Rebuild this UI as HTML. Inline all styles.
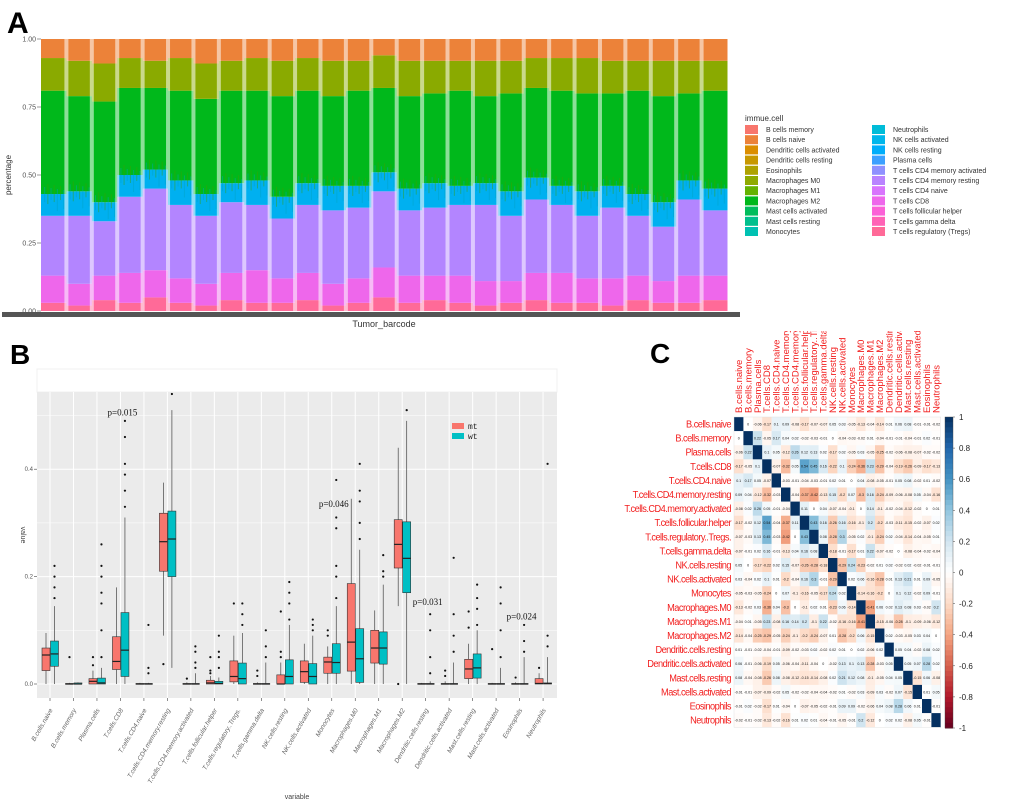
<!DOCTYPE html>
<html><head><meta charset="utf-8"><style>
html,body{margin:0;padding:0;background:#fff;}
svg{display:block;font-family:"Liberation Sans",sans-serif;}
</style></head><body>
<svg id="fig" width="1020" height="804" viewBox="0 0 1020 804" xmlns="http://www.w3.org/2000/svg">
<defs><clipPath id="cclip"><rect x="700" y="331" width="300" height="100"/></clipPath></defs>
<text x="7" y="33" font-size="30" font-weight="bold">A</text>
<text x="10" y="364" font-size="28" font-weight="bold">B</text>
<text x="650" y="363" font-size="28" font-weight="bold">C</text>
<g id="pa"></g>
<g id="pb"></g>
<g id="pc"></g>
</svg>
<script>
const NS="http://www.w3.org/2000/svg";
function mk(p,tag,at,txt){const e=document.createElementNS(NS,tag);for(const k in at)e.setAttribute(k,at[k]);if(txt!==undefined)e.textContent=txt;p.appendChild(e);return e;}

/* ---------- Panel A data ---------- */
const layerRed=[3,2,4,3,5,3,2,4,3,3,4,2,3,5,3,4,3,2,3,4,3,3,2,4,3,3,4];
const layerMagenta=[10,8,9,11,10,9,8,10,12,9,10,8,9,11,10,9,10,9,8,10,11,9,10,9,8,10,9];
const layerPurple=[22,25,20,28,30,27,25,26,24,22,25,27,26,28,24,25,26,28,24,27,25,23,26,22,20,28,24];
const layerCyan=[8,9,7,8,7,9,8,7,9,8,8,9,8,7,8,9,7,8,9,8,7,9,8,8,9,7,8];
const layerGreen=[38,35,37,32,30,33,35,34,33,37,34,33,35,31,34,33,35,32,36,33,35,36,34,38,39,32,36];
const layerOlive=[12,13,14,11,10,12,13,11,12,13,12,13,11,12,13,12,11,13,12,11,12,13,12,11,13,12,11];
const layerOrange=[7,8,9,7,8,7,9,8,7,8,7,8,8,6,8,8,8,8,8,7,7,7,8,8,8,8,8];
const aTicks=["0.00","0.25","0.50","0.75","1.00"];
const legendNames=["B cells memory","B cells naive","Dendritic cells activated","Dendritic cells resting","Eosinophils","Macrophages M0","Macrophages M1","Macrophages M2","Mast cells activated","Mast cells resting","Monocytes","Neutrophils","NK cells activated","NK cells resting","Plasma cells","T cells CD4 memory activated","T cells CD4 memory resting","T cells CD4 naive","T cells CD8","T cells follicular helper","T cells gamma delta","T cells regulatory (Tregs)"];
const legendColors=["#F8766D","#EC8239","#DB8E00","#C79800","#AEA200","#8FAA00","#64B200","#00B81B","#00BD5C","#00C08D","#00C1B2","#00BCD8","#00B6EB","#00ADFA","#3CA0FF","#8F91FF","#B983FF","#D874FD","#EE67EB","#FB61D7","#FF63B6","#FF6A98"];
const layerColors=["#FF6A98","#EE67EB","#B385FF","#00B0F0","#00B81B","#8AAA00","#EC8239"];

(function(){
 const g=document.getElementById('pa');
 const L=41,R=727,T=39,B=311;
 const ys=v=>B-(B-T)*v;
 const layers=[layerRed,layerMagenta,layerPurple,layerCyan,layerGreen,layerOlive,layerOrange];
 const n=layerRed.length, bw=(R-L)/n;
 for(let i=0;i<n;i++){
  let tot=0;layers.forEach(a=>tot+=a[i]);
  let cum=0;
  layers.forEach((a,j)=>{
   const y0=ys(cum/tot),y1=ys((cum+a[i])/tot);cum+=a[i];
   const r=mk(g,'rect',{x:L+i*bw,y:y1,width:bw+0.5,height:y0-y1,fill:layerColors[j]});
   
   
  });
  const base=(layerRed[i]+layerMagenta[i]+layerPurple[i]+layerCyan[i])/tot;
  for(let k=1;k<8;k++){
   const s=mk(g,'rect',{x:L+i*bw+k*bw/8,y:ys(base)-4-(3*k)%7,width:1,height:10+(k*5)%13,fill:k%2?"#00A2C0":"#3E9F00",opacity:0.45});
   
   
  }
  if(i>0){const st=mk(g,'rect',{x:L+i*bw-2,y:T,width:4,height:B-T,fill:"#fff",opacity:0.55});
   
   }
 }
 aTicks.forEach((t,i)=>{const y=ys(i/4);
  const tx=mk(g,'text',{x:36,y:y+2.5,'font-size':7,fill:'#555','text-anchor':'end'},t);
  
  
  mk(g,'line',{x1:37,x2:41,y1:y,y2:y,stroke:'#555','stroke-width':0.6});
 });
 const yt=mk(g,'text',{x:11,y:175,'font-size':8,fill:'#333','text-anchor':'middle',transform:'rotate(-90 11 175)'},'percentage');
 
 
 const ax=mk(g,'rect',{x:2,y:312,width:738,height:5,fill:'#555'});
 
 
 const xt=mk(g,'text',{x:384,y:327,'font-size':9,fill:'#333','text-anchor':'middle'},'Tumor_barcode');
 
 
 const lt=mk(g,'text',{x:745,y:121,'font-size':8,fill:'#333'},'immue.cell');
 
 
 legendNames.forEach((nm,i)=>{const col=i<11?0:1,row=i%11;const x=745+col*127,y=125+row*10.2;
  const r=mk(g,'rect',{x:x,y:y,width:13,height:9,fill:legendColors[i]});
  
  
  const t=mk(g,'text',{x:x+21,y:y+7,'font-size':7,fill:'#333'},nm);
  
  
 });
})();

/* ---------- Panel B data ---------- */
const bCats=["B.cells.naive","B.cells.memory","Plasma.cells","T.cells.CD8","T.cells.CD4.naive","T.cells.CD4.memory.resting","T.cells.CD4.memory.activated","T.cells.follicular.helper","T.cells.regulatory..Tregs.","T.cells.gamma.delta","NK.cells.resting","NK.cells.activated","Monocytes","Macrophages.M0","Macrophages.M1","Macrophages.M2","Dendritic.cells.resting","Dendritic.cells.activated","Mast.cells.resting","Mast.cells.activated","Eosinophils","Neutrophils"];
const mtQ1=[0.025,0,0,0.027,0,0.21,0,0,0.004,0,0,0.003,0.02,0.024,0.039,0.216,0,0,0.01,0,0,0];
const mtMed=[0.054,0,0.005,0.042,0,0.265,0,0.002,0.014,0,0,0.023,0.041,0.078,0.067,0.26,0,0,0.028,0,0,0.001];
const mtQ3=[0.067,0.001,0.01,0.088,0.001,0.318,0.001,0.007,0.043,0.001,0.017,0.043,0.05,0.187,0.1,0.306,0.001,0.001,0.046,0.001,0.001,0.01];
const mtLo=[0,0,0,0,0,0.09,0,0,0,0,0,0,0,0,0,0.145,0,0,0,0,0,0];
const mtHi=[0.095,0.002,0.025,0.18,0.002,0.375,0.003,0.015,0.09,0.003,0.04,0.075,0.07,0.345,0.137,0.44,0.002,0.005,0.075,0.002,0.003,0.02];
const mtOut=[[],[0.05],[0.035,0.05],[],[],[0.037],[0.01],[0.02,0.025,0.05],[0.15],[0.015,0.025],[0.05,0.06,0.135],[],[0.09,0.1],[],[],[0],[],[0.015,0.025],[0.105,0.135],[0.065],[0.012],[0.03]];
const wtQ1=[0.033,0,0,0.014,0,0.2,0,0,0,0,0,0,0.02,0.003,0.037,0.17,0,0,0.011,0,0,0];
const wtMed=[0.056,0,0.002,0.063,0,0.27,0,0.001,0.01,0,0.014,0.014,0.04,0.047,0.067,0.234,0,0,0.03,0,0,0.001];
const wtQ3=[0.08,0.002,0.011,0.133,0.001,0.322,0.001,0.005,0.039,0.001,0.045,0.038,0.075,0.103,0.097,0.302,0.001,0.001,0.056,0.001,0.001,0.002];
const wtLo=[0,0,0,0,0,0.03,0,0,0,0,0,0,0,0,0,0,0,0,0,0,0,0];
const wtHi=[0.145,0.003,0.03,0.31,0.002,0.51,0.02,0.012,0.095,0.04,0.11,0.09,0.145,0.25,0.185,0.49,0.005,0.04,0.1,0.03,0.05,0.05];
const wtOut=[[0.16,0.18,0.2,0.22],[],[0.05,0.1,0.15,0.17,0.2,0.22,0.26],[0.33,0.36,0.39,0.41,0.46,0.49],[0.02,0.03,0.11],[0.54],[0.03,0.04,0.06,0.07],[0.03,0.05,0.06,0.09],[0.11,0.13,0.15],[0.05,0.07,0.1],[0.12,0.15,0.17,0.19],[0.1,0.11,0.12],[0.16,0.2,0.22,0.29,0.31,0.38],[0.27,0.3,0.34,0.36,0.41],[0.2,0.21,0.24],[0.51],[0.02,0.05,0.1,0.13],[0.06,0.09,0.13,0.235],[0.11,0.14,0.16,0.185],[0.05,0.1,0.15,0.18],[0.06,0.08,0.11],[0.07,0.09,0.41]];
const bTicks=[0,0.2,0.4];
const pLabels=[{i:3,v:0.5,t:"p=0.015"},{i:12,v:0.33,t:"p=0.046"},{i:16,v:0.147,t:"p=0.031"},{i:20,v:0.12,t:"p=0.024"}];

(function(){
 const g=document.getElementById('pb');
 const L=37,R=557,T=392,B=698;
 const ys=v=>684-v*537;
 const xs=i=>50+i*23.48;
 mk(g,'rect',{x:L,y:369,width:R-L,height:23,fill:'#fff',stroke:'#f0f0f0','stroke-width':1});
 const bg=mk(g,'rect',{x:L,y:T,width:R-L,height:B-T,fill:'#EBEBEB'});
 
 
 [0.1,0.3,0.5].forEach(v=>mk(g,'line',{x1:L,x2:R,y1:ys(v),y2:ys(v),stroke:'#fff','stroke-width':0.5}));
 bTicks.forEach(v=>{mk(g,'line',{x1:L,x2:R,y1:ys(v),y2:ys(v),stroke:'#fff','stroke-width':1});
  mk(g,'line',{x1:34,x2:37,y1:ys(v),y2:ys(v),stroke:'#444','stroke-width':0.6});
  const t=mk(g,'text',{x:33,y:ys(v)+2,'font-size':6,fill:'#555','text-anchor':'end'},v.toFixed(1));
  
  });
 bCats.forEach((c,i)=>{mk(g,'line',{x1:xs(i),x2:xs(i),y1:T,y2:B,stroke:'#fff','stroke-width':1});
  mk(g,'line',{x1:xs(i),x2:xs(i),y1:B,y2:B+3,stroke:'#444','stroke-width':0.6});
  const t=mk(g,'text',{x:xs(i)+3,y:B+12,'font-size':6.5,'font-style':'italic',fill:'#666','text-anchor':'end',transform:`rotate(-60 ${xs(i)+3} ${B+12})`},c);
  
  });
 function box(i,off,q1,md,q3,lo,hi,out,col,nm){
  const x=xs(i)+off;
  mk(g,'line',{x1:x,x2:x,y1:ys(hi),y2:ys(lo),stroke:'#444','stroke-width':0.7});
  const r=mk(g,'rect',{x:x-4,y:ys(q3),width:8,height:Math.max(0.8,ys(q1)-ys(q3)),fill:col,stroke:'#333','stroke-width':0.6});
  
  
  mk(g,'line',{x1:x-4,x2:x+4,y1:ys(md),y2:ys(md),stroke:'#222','stroke-width':1.2});
  out.forEach(v=>{const c=mk(g,'circle',{cx:x,cy:ys(v),r:1.1,fill:'#111'});
   
   });
 }
 bCats.forEach((c,i)=>{box(i,-4,mtQ1[i],mtMed[i],mtQ3[i],mtLo[i],mtHi[i],mtOut[i],'#F8766D','box-mt');
  box(i,4.5,wtQ1[i],wtMed[i],wtQ3[i],wtLo[i],wtHi[i],wtOut[i],'#00BFC4','box-wt');});
 pLabels.forEach(p=>{const t=mk(g,'text',{x:xs(p.i)+2,y:ys(p.v),'font-size':9,'font-family':'"Liberation Serif",serif',fill:'#111','text-anchor':'middle'},p.t);
  
  });
 [['mt','#F8766D',423],['wt','#00BFC4',433]].forEach(([n,c,y])=>{
  const r=mk(g,'rect',{x:452,y:y,width:12,height:6,fill:c});
  
  
  const t=mk(g,'text',{x:468,y:y+6,'font-size':8,'font-family':'"Liberation Mono",monospace',fill:'#222'},n);
  
  });
 const xt=mk(g,'text',{x:297,y:799,'font-size':7,fill:'#444','text-anchor':'middle'},'variable');
 
 
 const yt=mk(g,'text',{x:21,y:535,'font-size':7,fill:'#444','text-anchor':'middle',transform:'rotate(90 21 535)'},'value');
 
 
})();

/* ---------- Panel C data ---------- */
const cNames=["B.cells.naive","B.cells.memory","Plasma.cells","T.cells.CD8","T.cells.CD4.naive","T.cells.CD4.memory.resting","T.cells.CD4.memory.activated","T.cells.follicular.helper","T.cells.regulatory..Tregs.","T.cells.gamma.delta","NK.cells.resting","NK.cells.activated","Monocytes","Macrophages.M0","Macrophages.M1","Macrophages.M2","Dendritic.cells.resting","Dendritic.cells.activated","Mast.cells.resting","Mast.cells.activated","Eosinophils","Neutrophils"];
const corr=[
[1,0,-0.06,-0.17,0.1,0.09,-0.08,-0.17,-0.07,-0.07,0.05,0.03,-0.05,-0.13,-0.04,-0.14,0.01,0.06,0.08,-0.01,-0.01,-0.02],
[0,1,0.22,-0.05,0.17,0.04,0.02,-0.02,-0.03,-0.01,0,-0.04,-0.03,-0.02,0.01,-0.04,-0.01,-0.01,-0.04,-0.01,0.02,-0.01],
[-0.06,0.22,1,0.1,0.05,-0.12,0.26,0.12,0.13,0.02,-0.17,0.02,-0.05,0.03,-0.05,-0.25,-0.02,-0.06,-0.08,-0.07,-0.02,-0.02],
[-0.17,-0.05,0.1,1,-0.07,-0.32,0.05,0.54,0.45,0.16,-0.22,0.1,-0.24,-0.36,0.23,-0.29,-0.04,-0.19,-0.26,-0.09,-0.17,-0.13],
[0.1,0.17,0.05,-0.07,1,-0.03,-0.01,-0.04,-0.03,-0.01,0.02,0.01,0,0.04,-0.08,-0.05,-0.01,0.05,0.08,-0.02,0.01,-0.02],
[0.09,0.04,-0.12,-0.32,-0.03,1,-0.04,-0.37,-0.42,-0.13,0.15,-0.2,0.07,-0.3,0.16,-0.24,-0.09,-0.06,-0.08,0.05,-0.04,-0.16],
[-0.08,0.02,0.26,0.05,-0.01,-0.04,1,0.11,0,0.04,-0.07,-0.04,-0.1,0,0.14,-0.1,-0.02,-0.04,-0.12,-0.02,0,0.01],
[-0.17,-0.02,0.12,0.54,-0.04,-0.37,0.11,1,0.43,0.16,-0.26,0.16,-0.16,-0.1,0.2,-0.2,-0.03,-0.11,-0.15,-0.02,-0.07,0.02],
[-0.07,-0.03,0.13,0.45,-0.03,-0.42,0,0.43,1,0.08,-0.28,0.3,-0.05,0.02,-0.1,-0.24,0.02,-0.04,-0.14,-0.04,-0.05,0.01],
[-0.07,-0.01,0.02,0.16,-0.01,-0.13,0.04,0.16,0.08,1,-0.18,-0.01,-0.17,0.01,0.22,-0.07,-0.02,0,-0.08,-0.04,-0.02,-0.04],
[0.05,0,-0.17,-0.22,0.02,0.15,-0.07,-0.26,-0.28,-0.18,1,-0.29,0.24,-0.23,-0.02,0.01,0.02,-0.02,0.02,-0.02,-0.01,-0.01],
[0.03,-0.04,0.02,0.1,0.01,-0.2,-0.04,0.16,0.3,-0.01,-0.29,1,0.02,0.06,-0.16,-0.28,0.01,0.13,0.21,0.01,0.09,-0.05],
[-0.05,-0.03,-0.05,-0.24,0,0.07,-0.1,-0.16,-0.05,-0.17,0.24,0.02,1,-0.14,-0.16,-0.2,0,0.1,0.12,-0.02,0.09,-0.01],
[-0.13,-0.02,0.03,-0.36,0.04,-0.3,0,-0.1,0.02,0.01,-0.23,0.06,-0.14,1,-0.41,0.06,0.02,0.13,0.08,0.03,-0.02,0.2],
[-0.04,0.01,-0.05,0.23,-0.08,0.16,0.14,0.2,-0.1,0.22,-0.02,-0.16,-0.16,-0.41,1,-0.15,-0.06,-0.28,-0.1,-0.09,-0.06,-0.12],
[-0.14,-0.04,-0.25,-0.29,-0.05,-0.24,-0.1,-0.2,-0.24,-0.07,0.01,-0.28,-0.2,0.06,-0.15,1,0.02,-0.03,-0.05,0.03,0.04,0],
[0.01,-0.01,-0.02,-0.04,-0.01,-0.09,-0.02,-0.03,0.02,-0.02,0.02,0.01,0,0.02,-0.06,0.02,1,0.05,0.04,-0.02,0.08,0.02],
[0.06,-0.01,-0.06,-0.19,0.05,-0.06,-0.04,-0.11,-0.04,0,-0.02,0.13,0.1,0.13,-0.28,-0.03,0.05,1,0.05,0.07,0.28,0.02],
[0.08,-0.04,-0.08,-0.26,0.08,-0.08,-0.12,-0.15,-0.14,-0.08,0.02,0.21,0.12,0.08,-0.1,-0.05,0.04,0.05,1,-0.15,0.06,-0.08],
[-0.01,-0.01,-0.07,-0.09,-0.02,0.05,-0.02,-0.02,-0.04,-0.04,-0.02,0.01,-0.02,0.03,-0.09,0.03,-0.02,0.07,-0.15,1,0.01,0.05],
[-0.01,0.02,-0.02,-0.17,0.01,-0.04,0,-0.07,-0.05,-0.02,-0.01,0.09,0.09,-0.02,-0.06,0.04,0.08,0.28,0.06,0.01,1,-0.01],
[-0.02,-0.01,-0.02,-0.13,-0.02,-0.16,0.01,0.02,0.01,-0.04,-0.01,-0.05,-0.01,0.2,-0.12,0,0.02,0.02,-0.08,0.05,-0.01,1]];
const cbTicks=["1","0.8","0.6","0.4","0.2","0","-0.2","-0.4","-0.6","-0.8","-1"];
const rdbu=[[103,0,31],[178,24,43],[214,96,77],[244,165,130],[253,219,199],[255,255,255],[209,229,240],[146,197,222],[67,147,195],[33,102,172],[5,48,97]];

(function(){
 const g=document.getElementById('pc');
 const L=734,T=417,cw=9.4,ch=14.1,n=cNames.length;
 function col(v){const t=(v+1)/2*10;const i=Math.min(9,Math.floor(t)),f=t-i;const a=rdbu[i],b=rdbu[i+1];
  return `rgb(${a.map((c,k)=>Math.round(c+(b[k]-c)*f)).join(',')})`;}
 const xs=j=>L+j*cw, ys=i=>T+i*ch;
 for(let i=0;i<n;i++)for(let j=0;j<n;j++){const v=corr[i][j];
  const r=mk(g,'rect',{x:xs(j),y:ys(i),width:cw+0.2,height:ch+0.2,fill:col(v)});
  
  
  if(i!==j){const t=mk(g,'text',{x:xs(j)+cw/2,y:ys(i)+ch/2+1.3,'font-size':3.6,'text-anchor':'middle',fill:'#111'},String(v));
   
   }
 }
 mk(g,'rect',{x:L,y:T,width:n*cw,height:n*ch,fill:'none',stroke:'#ddd','stroke-width':0.4});
 cNames.forEach((nm,i)=>{
  const t=mk(g,'text',{x:731,y:ys(i)+ch/2+3.5,'font-size':10.5,fill:'#F21C1C','text-anchor':'end','letter-spacing':'-0.6',transform:`translate(${731*0.12} 0) scale(0.88 1)`},nm);
  
  
 });
 const cg=mk(g,'g',{'clip-path':'url(#cclip)'});
 cNames.forEach((nm,j)=>{const x=xs(j)+cw/2+3.3,y=413;
  const t=mk(cg,'text',{x:x,y:y,'font-size':9.5,fill:'#F21C1C',transform:`rotate(-90 ${x} ${y})`},nm);
  
  
 });
 const cbT=417,cbB=728,cbx=945;
 for(let k=0;k<60;k++){const v=1-2*k/60;const y0=cbT+(cbB-cbT)*k/60;
  mk(g,'rect',{x:cbx,y:y0,width:8,height:(cbB-cbT)/60+0.5,fill:col(v-1/60)});}
 const cb=mk(g,'rect',{x:cbx,y:cbT,width:8,height:cbB-cbT,fill:'none',stroke:'#444','stroke-width':0.4});
 
 
 cbTicks.forEach((t,k)=>{const y=cbT+(cbB-cbT)*k/10;
  mk(g,'line',{x1:cbx+8,x2:cbx+10,y1:y,y2:y,stroke:'#444','stroke-width':0.5});
  const tx=mk(g,'text',{x:959,y:y+3,'font-size':8,fill:'#222'},t);
  
  });
})();
</script>
</body></html>
